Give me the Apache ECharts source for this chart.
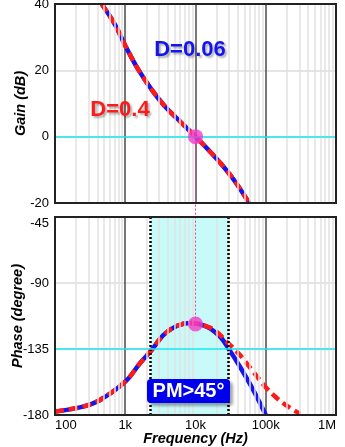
<!DOCTYPE html>
<html><head><meta charset="utf-8">
<script src="https://cdn.jsdelivr.net/npm/echarts@6/dist/echarts.min.js"></script>
<style>html,body{margin:0;padding:0;background:#fff}#c{width:345px;height:447px}</style>
</head><body><div id="c"></div>
<script>
// ---- data ----
const xTickValues = [100, 1000, 10000, 100000, 1000000];
const xTickLabels = ['100', '1k', '10k', '100k', '1M'];
const minorFreqs = [200,300,400,500,600,700,800,900,2000,3000,4000,5000,6000,7000,8000,9000,
  20000,30000,40000,50000,60000,70000,80000,90000,200000,300000,400000,500000,600000,700000,800000,900000];
const gainFreq = [462, 714, 1014, 1535, 2377, 3681, 5689, 10000, 15140, 23600, 36500, 58000];
const gainD006 = [40, 33.8, 27.2, 20.2, 14.2, 9.1, 5.1, 0, -3.9, -8.4, -13.5, -20];
const gainD04  = [40, 33.8, 27.2, 20.2, 14.2, 9.1, 5.1, 0, -3.9, -8.4, -13.5, -20];
const phaseFreqD006 = [100, 251, 437, 1000, 1622, 2377, 3483, 5395, 8360, 14450, 22340, 29300, 42950, 66500, 100000];
const phaseD006 = [-177.7, -174.3, -169.8, -157.3, -144.7, -135.7, -125.5, -119.3, -117.3, -119.8, -126.6, -134.5, -147.1, -163, -180];
const phaseFreqD04 = [100, 251, 437, 1000, 1622, 2377, 3483, 5395, 8360, 14450, 19950, 29300, 42950, 66500, 103000, 177800, 309000];
const phaseD04 = [-177.7, -174.3, -169.8, -157.3, -144.7, -135.7, -125.5, -119.3, -117.3, -119.5, -123.2, -131.1, -139.1, -150.5, -161.8, -172, -179.3];
const crossover = [10000, 0];
const crossoverPhase = [10000, -118];
const pmBand = [2290, 29500];
const gainRef = 0, phaseRef = -135;

const FONT = 'Liberation Sans, Arial, sans-serif';
const BLUE = '#1414ee', RED = '#ff1a1a', PINK = '#f03cc8';
const zip = (a, b) => a.map((v, i) => [v, b[i]]);
const labelMap = {}; xTickValues.forEach((v, i) => labelMap[v] = xTickLabels[i]);

const G1 = {left: 55, top: 4, width: 281, height: 199, outerBoundsMode: 'none', containLabel: false};
const G2 = {left: 55, top: 217, width: 281, height: 198, outerBoundsMode: 'none', containLabel: false};
const nameStyle = {fontSize: 14.5, fontWeight: 'bold', fontStyle: 'italic', color: '#000', fontFamily: FONT};

function xAxis(gi, showLabels) {
  return {
    type: 'log', logBase: 10, min: 100, max: 1000000, gridIndex: gi, z: 1,
    axisLine: {show: false}, axisTick: {show: false},
    axisLabel: {show: showLabels, color: '#000', fontSize: 13, fontFamily: FONT, margin: 4,
      alignMinLabel: 'left', alignMaxLabel: 'right',
      formatter: v => labelMap[Math.round(v)] || ''},
    splitLine: {show: true, lineStyle: {color: '#4a4a4a', width: 1.5}},
    name: showLabels ? 'Frequency (Hz)' : '', nameLocation: 'middle', nameGap: 16, nameMoveOverlap: false,
    nameTextStyle: nameStyle
  };
}
function minorSeries(xi, yi) {
  return {type: 'line', xAxisIndex: xi, yAxisIndex: yi, data: [], z: 1, silent: true,
    markLine: {silent: true, symbol: 'none', label: {show: false}, animation: false,
      lineStyle: {color: '#e2e2e2', width: 1.5, type: 'solid'},
      data: minorFreqs.map(f => ({xAxis: f}))}};
}
function curve(name, xi, data, color, dashed, z) {
  return {name, type: 'line', xAxisIndex: xi, yAxisIndex: xi, data, smooth: 0.35,
    showSymbol: false, z, lineStyle: {color, width: 4.5, type: dashed ? [9, 5] : 'solid'}};
}

const option = {
  animation: false,
  grid: [G1, G2],
  xAxis: [xAxis(0, false), xAxis(1, true)],
  yAxis: [
    {type: 'value', gridIndex: 0, min: -20, max: 40, interval: 20, z: 1,
     axisLine: {show: false}, axisTick: {show: false},
     axisLabel: {color: '#000', fontSize: 13, fontFamily: FONT, margin: 6},
     splitLine: {show: true, lineStyle: {color: '#dddddd', width: 1.5}},
     name: 'Gain (dB)', nameLocation: 'middle', nameGap: 27, nameMoveOverlap: false,
     nameTextStyle: nameStyle},
    {type: 'value', gridIndex: 1, min: -180, max: -45, interval: 45, z: 1,
     axisLine: {show: false}, axisTick: {show: false},
     axisLabel: {color: '#000', fontSize: 13, fontFamily: FONT, margin: 6, verticalAlignMaxLabel: 'top'},
     splitLine: {show: true, lineStyle: {color: '#dddddd', width: 1.5}},
     name: 'Phase (degree)', nameLocation: 'middle', nameGap: 30, nameMoveOverlap: false,
     nameTextStyle: nameStyle}
  ],
  series: [
    {type: 'line', xAxisIndex: 1, yAxisIndex: 1, data: [], z: 0, silent: true,
     markArea: {silent: true, itemStyle: {color: '#c8fafa'}, data: [[{xAxis: pmBand[0]}, {xAxis: pmBand[1]}]]}},
    minorSeries(0, 0), minorSeries(1, 1),
    {type: 'line', xAxisIndex: 1, yAxisIndex: 1, data: [], z: 2, silent: true,
     markLine: {silent: true, symbol: 'none', label: {show: false},
       lineStyle: {color: '#000', width: 2.5, type: [2, 2]},
       data: pmBand.map(f => ({xAxis: f}))}},
    {type: 'line', xAxisIndex: 0, yAxisIndex: 0, data: [], z: 2, silent: true,
     markLine: {silent: true, symbol: 'none', label: {show: false},
       lineStyle: {color: '#19e8f0', width: 1.5, type: 'solid'}, data: [{yAxis: gainRef}]}},
    {type: 'line', xAxisIndex: 1, yAxisIndex: 1, data: [], z: 2, silent: true,
     markLine: {silent: true, symbol: 'none', label: {show: false},
       lineStyle: {color: '#19e8f0', width: 1.5, type: 'solid'}, data: [{yAxis: phaseRef}]}},
    curve('D=0.06', 0, zip(gainFreq, gainD006), BLUE, false, 3),
    curve('D=0.4', 0, zip(gainFreq, gainD04), RED, true, 4),
    curve('D=0.06', 1, zip(phaseFreqD006, phaseD006), BLUE, false, 3),
    curve('D=0.4', 1, zip(phaseFreqD04, phaseD04), RED, true, 4),
    {type: 'scatter', xAxisIndex: 0, yAxisIndex: 0, data: [crossover], symbolSize: 15, z: 6,
     itemStyle: {color: PINK}},
    {type: 'scatter', xAxisIndex: 1, yAxisIndex: 1, data: [crossoverPhase], symbolSize: 15, z: 6,
     itemStyle: {color: PINK}}
  ]
};
const chart = echarts.init(document.getElementById('c'), null, {renderer: 'canvas'});
chart.setOption(option);

const p1 = chart.convertToPixel({xAxisIndex: 0, yAxisIndex: 0}, crossover);
const p2 = chart.convertToPixel({xAxisIndex: 1, yAxisIndex: 1}, crossoverPhase);
const shadow = {textShadowColor: 'rgba(0,0,0,0.3)', textShadowBlur: 2, textShadowOffsetX: 2, textShadowOffsetY: 2};
chart.setOption({graphic: [
  {type: 'line', z: 5, shape: {x1: p1[0], y1: p1[1], x2: p2[0], y2: p2[1]},
   style: {stroke: '#e0409a', lineWidth: 1, lineDash: [2, 2]}},
  {type: 'rect', z: 20, silent: true, shape: {x: G1.left, y: G1.top, width: G1.width, height: G1.height},
   style: {fill: 'none', stroke: '#222', lineWidth: 2}},
  {type: 'rect', z: 20, silent: true, shape: {x: G2.left, y: G2.top, width: G2.width, height: G2.height},
   style: {fill: 'none', stroke: '#222', lineWidth: 2}},
  {type: 'text', z: 21, x: 190, y: 50, style: Object.assign({text: 'D=0.06', fill: BLUE,
   font: 'bold 22px ' + FONT, align: 'center', verticalAlign: 'middle'}, shadow)},
  {type: 'text', z: 21, x: 120, y: 110, style: Object.assign({text: 'D=0.4', fill: RED,
   font: 'bold 22px ' + FONT, align: 'center', verticalAlign: 'middle'}, shadow)},
  {type: 'rect', z: 21, shape: {x: 147, y: 379, width: 83, height: 24, r: 4},
   style: {fill: '#0000ee', shadowColor: 'rgba(0,0,0,0.35)', shadowBlur: 3, shadowOffsetX: 3, shadowOffsetY: 3}},
  {type: 'text', z: 22, x: 188.5, y: 391.5, style: {text: 'PM>45°', fill: '#fff',
   font: 'bold 20px ' + FONT, align: 'center', verticalAlign: 'middle'}}
]});
</script></body></html>
